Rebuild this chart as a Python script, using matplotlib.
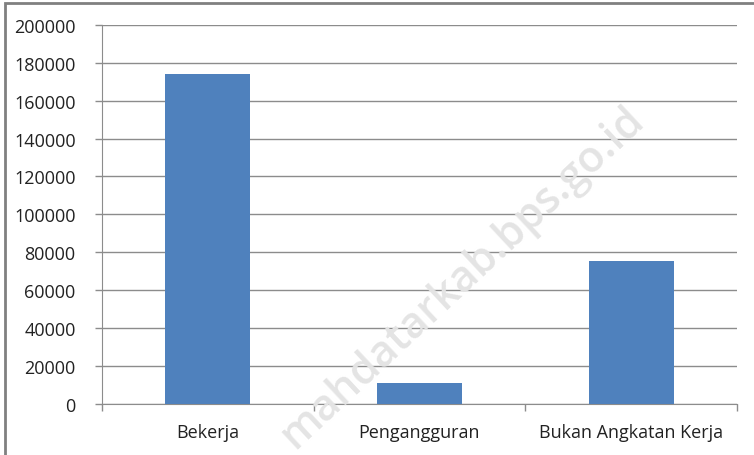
import matplotlib
matplotlib.use("Agg")
import matplotlib.pyplot as plt
from matplotlib.patches import Rectangle
import numpy as np

plt.rcParams['font.family'] = ['Open Sans', 'DejaVu Sans']

# -------------- data ----------------------------------------------------
categories = ['Bekerja', 'Pengangguran', 'Bukan Angkatan Kerja']
values = [174000, 10800, 75500]
yticks = [0, 20000, 40000, 60000, 80000, 100000, 120000, 140000, 160000, 180000, 200000]

bar_color = '#4f81bd'
grid_color = '#8c8c8c'

fig = plt.figure(figsize=(7.54, 4.56), dpi=100)
ax = fig.add_axes([102/754, (456-404.7)/456, 635/754, 378.7/456])

x = np.arange(len(categories))
ax.bar(x, values, width=0.40, color=bar_color, zorder=3)

ax.set_xlim(-0.5, len(categories) - 0.5)
ax.set_ylim(0, 200000)
ax.set_yticks(yticks)
ax.set_yticklabels([str(v) for v in yticks], fontsize=13, color='#222222')
ax.yaxis.grid(True, color=grid_color, linewidth=1.0, zorder=0)

# category labels centred, tick marks at category boundaries
ax.set_xticks(x)
ax.set_xticklabels(categories, fontsize=13, color='#222222')
ax.tick_params(axis='x', length=0, pad=14)
ax.set_xticks(np.arange(-0.5, len(categories)), minor=True)
ax.tick_params(axis='x', which='minor', length=5, color=grid_color, width=1.0)
ax.tick_params(axis='y', length=5, color=grid_color, width=1.0, pad=14)

for s in ['top', 'right']:
    ax.spines[s].set_visible(False)
ax.spines['left'].set_color(grid_color)
ax.spines['bottom'].set_color(grid_color)

# outer chart border
fig.patches.append(Rectangle((5/754, -0.05), 1.0, 1.05 - 4/456, transform=fig.transFigure,
                             fill=False, edgecolor='#808080', linewidth=2.0, zorder=0))

# watermark
fig.text(462/754, 1 - 278/456, 'mahdatarkab.bps.go.id', rotation=43, fontsize=31,
         fontweight='semibold', color='#e4e4e4', ha='center', va='center', zorder=10)

fig.savefig('out.png', dpi=100)
